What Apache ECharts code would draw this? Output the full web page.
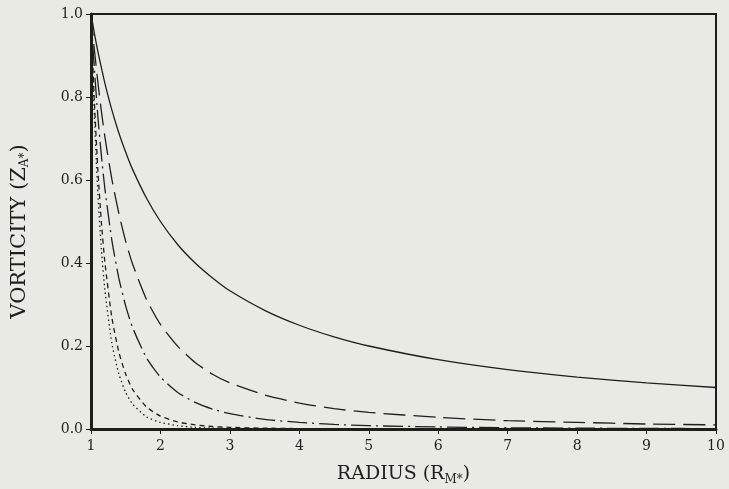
<!DOCTYPE html>
<html>
<head>
<meta charset="utf-8">
<script src="https://cdn.jsdelivr.net/npm/echarts@6/dist/echarts.min.js"></script>
<style>
  html, body { margin: 0; padding: 0; background: #eaeae5; }
  #chart { width: 729px; height: 489px; }
</style>
</head>
<body>
<div id="chart"></div>
<script>
// radius samples (R_M*)
const radius = [1, 1.025, 1.05, 1.1, 1.15, 1.2, 1.3, 1.4, 1.5, 1.6, 1.8, 2, 2.25, 2.5, 2.75, 3, 3.5, 4, 4.5, 5, 6, 7, 8, 9, 10]

// vorticity
const solidLine = [1, 0.976, 0.952, 0.909, 0.870, 0.833, 0.769, 0.714, 0.667, 0.625, 0.556, 0.5, 0.444, 0.4, 0.364, 0.333, 0.286, 0.25, 0.222, 0.2, 0.167, 0.143, 0.125, 0.111, 0.1]
const longDash = [1, 0.955, 0.912, 0.834, 0.765, 0.704, 0.602, 0.520, 0.452, 0.397, 0.312, 0.252, 0.199, 0.16, 0.132, 0.111, 0.082, 0.0625, 0.049, 0.04, 0.028, 0.020, 0.016, 0.012, 0.01]
const dashDot = [1, 0.929, 0.864, 0.751, 0.658, 0.579, 0.455, 0.364, 0.296, 0.244, 0.171, 0.125, 0.088, 0.064, 0.048, 0.037, 0.023, 0.016, 0.011, 0.008, 0.005, 0.003, 0.002, 0.0014, 0.001]
const shortDash = [1, 0.884, 0.784, 0.621, 0.497, 0.402, 0.269, 0.186, 0.132, 0.095, 0.053, 0.031, 0.017, 0.010, 0.006, 0.004, 0.002, 0.001, 0.0005, 0.0003, 0.0001, 0, 0, 0, 0]
const dotted = [1, 0.862, 0.746, 0.564, 0.432, 0.335, 0.207, 0.133, 0.088, 0.060, 0.029, 0.016, 0.008, 0.004, 0.002, 0.001, 0.0005, 0.0002, 0.0001, 0, 0, 0, 0, 0, 0]

const pairs = ys => radius.map((r, i) => [r, ys[i]])

const chart = echarts.init(document.getElementById('chart'))
const ink = '#1e1e1e'
const font = 'DejaVu Serif'

function curve(ys, type) {
  return {
    type: 'line',
    data: pairs(ys),
    showSymbol: false,
    smooth: 0.2,
    animation: false,
    lineStyle: { color: ink, width: 1.3, type: type }
  }
}

chart.setOption({
  backgroundColor: '#eaeae5',
  grid: {
    left: 91, right: 13, top: 14, bottom: 60,
    outerBoundsMode: 'none',
    show: true, borderColor: ink, borderWidth: 2
  },
  xAxis: {
    type: 'value',
    min: 1, max: 10, interval: 1,
    name: '{a|RADIUS (R}{s|M*}{a|)}',
    nameLocation: 'middle',
    nameGap: 34,
    nameTextStyle: {
      rich: {
        a: { fontFamily: font, fontSize: 19, color: ink },
        s: { fontFamily: font, fontSize: 12, color: ink, padding: [11, 0, 0, 0] }
      }
    },
    axisLine: { show: true, onZero: false, lineStyle: { color: ink, width: 3 } },
    axisTick: { show: true, length: 5, lineStyle: { color: ink, width: 1 } },
    axisLabel: { fontFamily: font, fontSize: 14, color: ink, margin: 10 },
    splitLine: { show: false }
  },
  yAxis: {
    type: 'value',
    min: 0, max: 1, interval: 0.2,
    name: '{a|VORTICITY (Z}{s|A*}{a|)}',
    nameLocation: 'middle',
    nameGap: 60,
    nameTextStyle: {
      padding: [0, 20, 0, 0],
      rich: {
        a: { fontFamily: font, fontSize: 21, color: ink },
        s: { fontFamily: font, fontSize: 12, color: ink, padding: [11, 0, 0, 0] }
      }
    },
    axisLine: { show: true, onZero: false, lineStyle: { color: ink, width: 3 } },
    axisTick: { show: true, length: 5, lineStyle: { color: ink, width: 1 } },
    axisLabel: { fontFamily: font, fontSize: 14, color: ink, margin: 8, formatter: v => v.toFixed(1) },
    splitLine: { show: false }
  },
  series: [
    curve(solidLine, 'solid'),
    curve(longDash, [22, 8]),
    curve(dashDot, [20, 5, 2, 5]),
    curve(shortDash, [5, 4]),
    curve(dotted, [1.5, 3])
  ]
})
</script>
</body>
</html>
